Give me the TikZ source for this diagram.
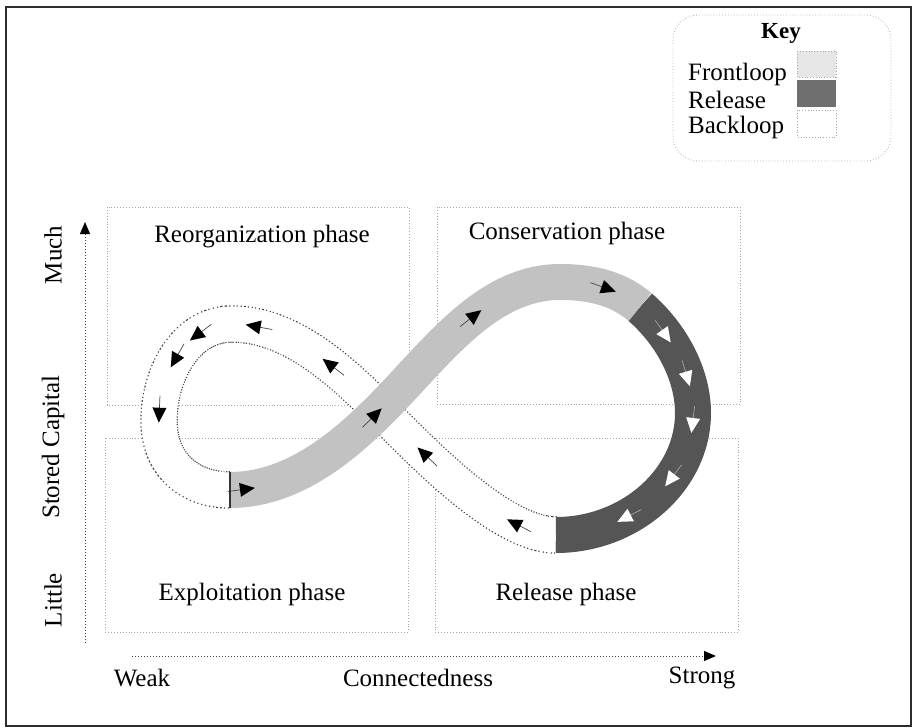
\documentclass[tikz,border=0pt]{standalone}
\usepackage{fontspec}
\setmainfont{Liberation Serif}
\usetikzlibrary{arrows.meta,decorations.markings,calc}
\definecolor{frontcol}{HTML}{C2C2C2}
\definecolor{relcol}{HTML}{555555}
\definecolor{frontkey}{HTML}{E6E6E6}
\definecolor{relkey}{HTML}{6E6E6E}
\newcommand\blkarrow{\draw[gray!55!black, line width=0.7pt] (-20pt,0pt) -- (-6pt,0pt); \fill[black] (7pt,0pt) -- (-8pt,7pt) -- (-8pt,-7pt) -- cycle;}
\newcommand\whtarrow{\draw[gray!70, line width=0.7pt] (-20pt,0pt) -- (-6pt,0pt); \fill[white] (7pt,0pt) -- (-8pt,7pt) -- (-8pt,-7pt) -- cycle;}
\begin{document}
\begin{tikzpicture}[x=1pt,y=-1pt,
  lbl/.style={font=\fontsize{25}{29}\selectfont, inner sep=0pt},
  keylbl/.style={font=\fontsize{25}{29}\selectfont, inner sep=0pt, anchor=west},
  phasebox/.style={draw=gray!70, dotted, line width=0.9pt},
  axisline/.style={draw=gray!50!black, dotted, line width=1pt, -{Triangle[length=12pt,width=10pt,color=black]}},
  frontpath/.style={insert path={(A) .. controls (290,490) and (340,450) .. (X) .. controls (435,355) and (485,282) .. (C) .. controls (595,282) and (620,290) .. (D)}},
  releasepath/.style={insert path={(D) .. controls (672,335) and (693,375) .. (E) .. controls (693,480) and (630,535) .. (F)}},
  backpath/.style={insert path={(F) .. controls (500,535) and (420,450) .. (X) .. controls (340,370) and (290,324) .. (H) .. controls (185,324) and (159,375) .. (L) .. controls (159,465) and (190,490) .. (A)}},
  backedge/.style={draw=gray!55!black, line width=37.5pt, dash pattern=on 1.2pt off 2pt},
  backfill/.style={draw=white, line width=35pt},
  frontband/.style={draw=frontcol, line width=36pt},
  releaseband/.style={draw=relcol, line width=36pt}
]
\useasboundingbox (0,0) rectangle (914,728);
% outer frame
\draw[line width=1.4pt, gray!35!black] (6,7) rectangle (911,726);

% key
\draw[gray!55, dotted, line width=0.9pt, rounded corners=25pt] (673,15) rectangle (891,161);
\node[font=\bfseries\fontsize{23}{27}\selectfont, inner sep=0pt] (keyt) at (781,33) {Key};
\node[keylbl] (kf) at (688,74) {Frontloop};
\node[keylbl] (kr) at (688,100) {Release};
\node[keylbl] (kb) at (688,127) {Backloop};
\draw[gray!70, dotted, line width=0.8pt, fill=frontkey] (797,51) rectangle (836,77);
\fill[relkey] (797,80) rectangle (836,107);
\draw[gray!70, dotted, line width=0.8pt, fill=white] (797,110) rectangle (836,137);

% phase boxes
\draw[phasebox] (107,207) rectangle (409,405);
\draw[phasebox] (437,207) rectangle (740,404);
\draw[phasebox] (105,438) rectangle (408,632);
\draw[phasebox] (435,438) rectangle (738,632);
\node[lbl] (reorg) at (262,237) {Reorganization phase};
\node[lbl] (cons) at (567,233) {Conservation phase};
\node[lbl] (expl) at (252,594) {Exploitation phase};
\node[lbl] (rel) at (566,594) {Release phase};

% axes
\coordinate (yb) at (85,643);
\coordinate (yt) at (85,222);
\coordinate (xl) at (132,656);
\coordinate (xr) at (716,656);
\draw[axisline] (yb) -- (yt);
\draw[axisline] (xl) -- (xr);
\node[lbl, rotate=90] (much) at (53,255) {Much};
\node[lbl, rotate=90] (stored) at (53,447) {Stored Capital};
\node[lbl, rotate=90] (little) at (53,600) {Little};
\node[lbl] (weak) at (142,678) {Weak};
\node[lbl] (conn) at (418,678) {Connectedness};
\node[lbl] (strong) at (702,678) {Strong};

% band points
\coordinate (A) at (230,490);
\coordinate (X) at (380,410);
\coordinate (C) at (560,282);
\coordinate (D) at (640,307);
\coordinate (E) at (693,413);
\coordinate (F) at (556,535);
\coordinate (H) at (232,324);
\coordinate (L) at (159,421);

% backloop
\draw[backedge, backpath];
\draw[backfill, backpath, postaction={decorate, decoration={markings,
  mark=at position 45pt with {\blkarrow},
  mark=at position 160pt with {\blkarrow},
  mark=at position 290pt with {\blkarrow},
  mark=at position 375pt with {\blkarrow},
  mark=at position 435pt with {\blkarrow},
  mark=at position 468pt with {\blkarrow},
  mark=at position 525pt with {\blkarrow}}}];
% release
\draw[releaseband, releasepath, postaction={decorate, decoration={markings,
  mark=at position 40pt with {\whtarrow},
  mark=at position 88pt with {\whtarrow},
  mark=at position 135pt with {\whtarrow},
  mark=at position 195pt with {\whtarrow},
  mark=at position 255pt with {\whtarrow}}}];
% frontloop
\draw[frontband, frontpath, postaction={decorate, decoration={markings,
  mark=at position 18pt with {\blkarrow},
  mark=at position 170pt with {\blkarrow},
  mark=at position 310pt with {\blkarrow},
  mark=at position 452pt with {\blkarrow}}}];
\draw[line width=1.5pt, gray!40!black] ($(A)+(0,-18)$) -- ($(A)+(0,18)$);
\end{tikzpicture}
\end{document}
